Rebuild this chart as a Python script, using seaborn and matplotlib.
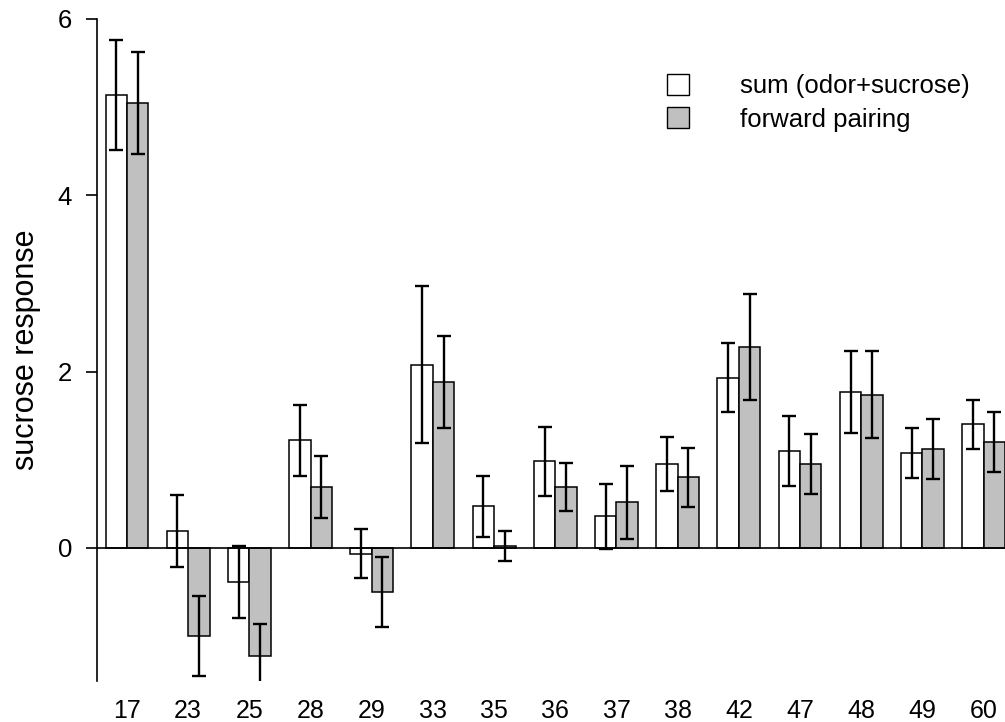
import matplotlib
matplotlib.use("Agg")
import matplotlib.pyplot as plt
from matplotlib.patches import Patch
import numpy as np
import pandas as pd
import seaborn as sns

# Odor / site labels along the x axis
sites = ["17", "23", "25", "28", "29", "33", "35", "36", "37", "38",
         "42", "47", "48", "49", "60"]

# Mean sucrose response and error (SEM) for each condition
sum_mean = [5.14, 0.19, -0.39, 1.22, -0.065, 2.08, 0.47, 0.98, 0.36, 0.95,
            1.93, 1.10, 1.77, 1.08, 1.40]
sum_err = [0.625, 0.41, 0.41, 0.40, 0.28, 0.895, 0.35, 0.39, 0.37, 0.31,
           0.39, 0.395, 0.466, 0.284, 0.28]
fwd_mean = [5.045, -1.00, -1.23, 0.69, -0.50, 1.88, 0.02, 0.69, 0.515, 0.80,
            2.28, 0.95, 1.74, 1.125, 1.20]
fwd_err = [0.575, 0.455, 0.37, 0.35, 0.40, 0.52, 0.167, 0.27, 0.41, 0.333,
           0.60, 0.34, 0.49, 0.34, 0.34]

conditions = ["sum (odor+sucrose)", "forward pairing"]
colors = {"sum (odor+sucrose)": "white", "forward pairing": "#c0c0c0"}

df = pd.DataFrame({
    "site": sites * 2,
    "condition": [conditions[0]] * len(sites) + [conditions[1]] * len(sites),
    "response": sum_mean + fwd_mean,
    "err": sum_err + fwd_err,
})

sns.set_style("ticks")
plt.rcParams["font.family"] = ["Liberation Sans", "DejaVu Sans"]
plt.rcParams["text.color"] = "black"
plt.rcParams["axes.labelcolor"] = "black"
plt.rcParams["xtick.color"] = "black"
plt.rcParams["ytick.color"] = "black"

fig = plt.figure(figsize=(10.05, 7.22), dpi=100)
ax = fig.add_axes([0.0962, 0.0568, 0.9038, 0.9169])

sns.barplot(data=df, x="site", y="response", hue="condition",
            order=sites, hue_order=conditions, palette=colors,
            saturation=1, width=0.7, edgecolor="black", linewidth=1.1,
            errorbar=None, legend=False, ax=ax)

# error bars placed at the centres of the drawn bars
for cont, cond in zip(ax.containers, conditions):
    sub = df[df["condition"] == cond].set_index("site").loc[sites]
    xs = [b.get_x() + b.get_width() / 2 for b in cont]
    ax.errorbar(xs, sub["response"].values, yerr=sub["err"].values,
                fmt="none", ecolor="black", elinewidth=1.7,
                capsize=5, capthick=1.7, zorder=3)

ax.axhline(0, color="black", lw=1.2, zorder=4)

ax.set_xlim(-0.495, 14.35)
ax.set_ylim(-1.51, 6)
ax.set_yticks([0, 2, 4, 6])

for s in ["top", "right", "bottom"]:
    ax.spines[s].set_visible(False)
ax.spines["left"].set_linewidth(1.2)
ax.spines["left"].set_color("black")

ax.tick_params(axis="x", length=0, pad=13, labelsize=18)
ax.tick_params(axis="y", length=7.7, width=1.2, pad=10, labelsize=18.5)

ax.set_xlabel("")
ax.set_ylabel("sucrose response", fontsize=22)
ax.yaxis.set_label_coords(-0.061, 0.5)

handles = [Patch(facecolor=colors[c], edgecolor="black", linewidth=1.0)
           for c in conditions]
ax.legend(handles, conditions, frameon=False, loc="upper left",
          bbox_to_anchor=(667 / 1005, 1 - 74 / 722),
          bbox_transform=fig.transFigure, fontsize=18.5,
          handlelength=0.86, handleheight=0.86, handletextpad=2.0,
          labelspacing=0.36, borderpad=0, borderaxespad=0)

fig.savefig("out.png", dpi=100)
